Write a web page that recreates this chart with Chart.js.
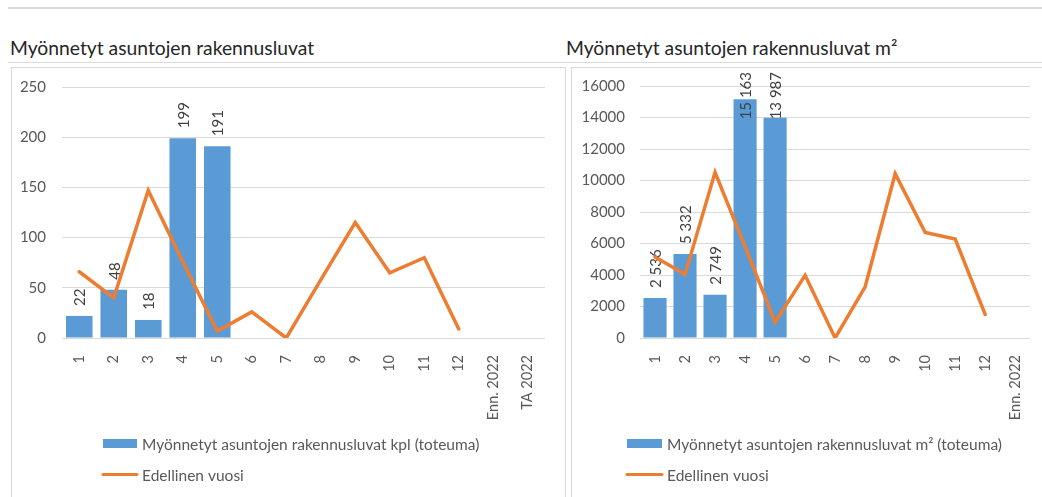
<!DOCTYPE html>
<html>
<head>
<meta charset="utf-8">
<script src="https://cdn.jsdelivr.net/npm/chart.js@4"></script>
<style>
  html, body { margin:0; padding:0; background:#fff; }
  body { width:1042px; height:497px; overflow:hidden; position:relative; font-family: Lato, "Open Sans", sans-serif; }
  .hline { position:absolute; background:#d9d9d9; }
  .title { position:absolute; top:37px; font-size:19.3px; line-height:22px; color:#262626; white-space:nowrap; }
  .panel { position:absolute; top:67px; height:440px; border:1px solid #d9d9d9; box-sizing:border-box; }
  canvas { position:absolute; }
</style>
</head>
<body>
<div class="hline" style="left:8px; top:7px; width:1034px; height:2px;"></div>
<div class="title" style="left:10px;">Myönnetyt asuntojen rakennusluvat</div>
<div class="title" style="left:566px;">Myönnetyt asuntojen rakennusluvat m²</div>
<div class="hline" style="left:8px; top:62px; width:1034px; height:1px;"></div>
<div class="panel" style="left:11px; width:555px;"></div>
<div class="panel" style="left:571px; width:500px;"></div>
<canvas id="c1" width="552" height="435" style="left:12px; top:62px;"></canvas>
<canvas id="c2" width="470" height="435" style="left:572px; top:62px;"></canvas>
<script>
// ---- Data ----
const categoriesKpl = ['1','2','3','4','5','6','7','8','9','10','11','12','Enn. 2022','TA 2022'];
const toteumaKpl = [22, 48, 18, 199, 191, null, null, null, null, null, null, null, null, null];
const edellinenKpl = [66, 40, 147, 76, 7, 26, 0, 58, 115, 65, 80, 9, null, null];
const yTicksKpl = { min: 0, max: 250, step: 50 };

const categoriesM2 = ['1','2','3','4','5','6','7','8','9','10','11','12','Enn. 2022'];
const toteumaM2 = [2536, 5332, 2749, 15163, 13987, null, null, null, null, null, null, null, null];
const edellinenM2 = [5150, 4040, 10520, 5800, 1000, 3980, 0, 3250, 10430, 6700, 6280, 1490, null];
const yTicksM2 = { min: 0, max: 16000, step: 2000 };

const labelKplBar = 'Myönnetyt asuntojen rakennusluvat kpl (toteuma)';
const labelM2Bar = 'Myönnetyt asuntojen rakennusluvat m² (toteuma)';
const labelLine = 'Edellinen vuosi';

// ---- Styles ----
const BLUE = '#5b9bd5';
const ORANGE = '#ed7d31';
const GRID = '#d9d9d9';
const TXT = '#595959';
const FONT = 'Lato';

function fmtThousands(v) {
  return String(v).replace(/\B(?=(\d{3})+(?!\d))/g, ' ');
}

const barLabels = {
  id: 'barLabels',
  afterDatasetDraw(chart, args, opts) {
    const ds = chart.data.datasets[args.index];
    if (ds.type !== 'bar') return;
    const ctx = chart.ctx;
    ctx.save();
    ctx.font = opts.size + 'px ' + FONT;
    ctx.fillStyle = '#404040';
    ctx.textAlign = 'left';
    ctx.textBaseline = 'middle';
    args.meta.data.forEach((el, i) => {
      const v = ds.data[i];
      if (v == null) return;
      const txt = fmtThousands(v);
      const w = ctx.measureText(txt).width;
      let y0 = el.y - opts.gap;
      if (y0 - w < opts.minTop) y0 = opts.minTop + w;
      ctx.save();
      ctx.translate(el.x + 1, y0);
      ctx.rotate(-Math.PI / 2);
      ctx.fillText(txt, 0, 0);
      ctx.restore();
    });
    ctx.restore();
  }
};

const customLegend = {
  id: 'customLegend',
  afterDraw(chart, args, opts) {
    const ctx = chart.ctx;
    ctx.save();
    ctx.font = opts.size + 'px ' + FONT;
    ctx.textBaseline = 'middle';
    ctx.textAlign = 'left';
    chart.data.datasets.forEach((ds, i) => {
      const y = opts.y + i * opts.rowGap;
      if (ds.type === 'bar') {
        ctx.fillStyle = ds.backgroundColor;
        ctx.fillRect(opts.x, y - 4.5, opts.boxW, 9);
      } else {
        ctx.strokeStyle = ds.borderColor;
        ctx.lineWidth = 3;
        ctx.lineCap = 'round';
        ctx.beginPath();
        ctx.moveTo(opts.x, y);
        ctx.lineTo(opts.x + opts.boxW, y);
        ctx.stroke();
      }
      ctx.fillStyle = TXT;
      ctx.fillText(ds.label, opts.x + opts.boxW + 5, y + 1);
    });
    ctx.restore();
  }
};

function makeChart(id, cats, bars, line, barLabel, yt, cfg) {
  return new Chart(document.getElementById(id), {
    data: {
      labels: cats,
      datasets: [
        { type: 'bar', label: barLabel, data: bars, backgroundColor: BLUE, order: 1,
          barPercentage: 0.77, categoryPercentage: 1.0 },
        { type: 'line', label: labelLine, data: line, borderColor: ORANGE, backgroundColor: ORANGE,
          borderWidth: 3.5, pointRadius: 0, tension: 0, order: 0, spanGaps: false,
          borderJoinStyle: 'miter', borderCapStyle: 'round' }
      ]
    },
    options: {
      responsive: false,
      animation: false,
      devicePixelRatio: 1,
      layout: { autoPadding: false, padding: { left: 0, top: 24, right: cfg.padRight, bottom: 0 } },
      plugins: {
        legend: { display: false },
        tooltip: { enabled: false },
        barLabels: { gap: 10, minTop: 10, size: 15 },
        customLegend: cfg.legend
      },
      scales: {
        x: {
          grid: { display: false },
          border: { display: false },
          ticks: { color: TXT, font: { family: FONT, size: 14.5 }, minRotation: 90, maxRotation: 90,
                   autoSkip: false, padding: 9 },
          afterFit(s) { s.height = 159; }
        },
        y: {
          min: yt.min, max: yt.max,
          grid: { color: GRID, drawTicks: false, lineWidth: 1 },
          border: { display: false },
          ticks: { stepSize: yt.step, color: TXT, font: { family: FONT, size: 15 }, padding: cfg.yPad,
                   callback: (v) => String(v) },
          afterFit(s) { s.width = cfg.yWidth; }
        }
      }
    },
    plugins: [barLabels, customLegend]
  });
}

makeChart('c1', categoriesKpl, toteumaKpl, edellinenKpl, labelKplBar, yTicksKpl,
  { padRight: 19, yWidth: 50, yPad: 16,
    legend: { x: 91, y: 381.5, rowGap: 31, boxW: 34, size: 15.5 } });
makeChart('c2', categoriesM2, toteumaM2, edellinenM2, labelM2Bar, yTicksM2,
  { padRight: 9, yWidth: 68, yPad: 15,
    legend: { x: 55, y: 381.5, rowGap: 31, boxW: 35, size: 15.5 } });
</script>
</body>
</html>
